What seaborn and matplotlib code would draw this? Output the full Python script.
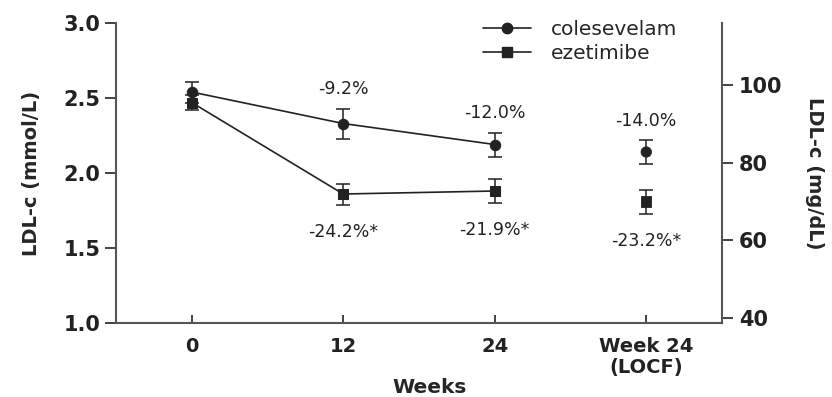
import numpy as np
import pandas as pd
import seaborn as sns
import matplotlib.pyplot as plt
from matplotlib.lines import Line2D

# values (mmol/L)
weeks = ["0", "12", "24", "Week 24\n(LOCF)"]
coles_mean = [2.54, 2.33, 2.19, 2.14]
coles_err = [0.07, 0.10, 0.08, 0.08]
ezet_mean = [2.47, 1.86, 1.88, 1.81]
ezet_err = [0.05, 0.07, 0.08, 0.08]
coles_pct = ["", "-9.2%", "-12.0%", "-14.0%"]
ezet_pct = ["", "-24.2%*", "-21.9%*", "-23.2%*"]
MG_PER_MMOL = 38.67

sns.set_theme(style="ticks")
plt.rcParams['font.family'] = ['DejaVu Sans']

pos = np.arange(len(weeks))
df = pd.DataFrame({
    "pos": np.concatenate([pos, pos]),
    "ldl": coles_mean + ezet_mean,
    "err": coles_err + ezet_err,
    "group": ["colesevelam"] * 4 + ["ezetimibe"] * 4,
})
line_df = df[df["pos"] < 3]
mk = {"colesevelam": "o", "ezetimibe": "s"}
ink = "#222222"
pal = {"colesevelam": ink, "ezetimibe": ink}

fig = plt.figure(figsize=(8.32, 3.97), dpi=100)
ax = fig.add_axes([0.1394, 0.1864, 0.7284, 0.7556])

sns.lineplot(data=line_df, x="pos", y="ldl", hue="group", style="group",
             markers=mk, dashes=False, palette=pal, markeredgecolor=ink,
             markersize=7.5, linewidth=1.2, legend=False, ax=ax)
sns.scatterplot(data=df[df["pos"] == 3], x="pos", y="ldl", hue="group", style="group",
                markers=mk, palette=pal, s=56, edgecolor=ink, legend=False,
                ax=ax, zorder=3)
for g, sub in df.groupby("group"):
    ax.errorbar(sub["pos"], sub["ldl"], yerr=sub["err"], fmt="none",
                ecolor=ink, elinewidth=1.1, capsize=5, capthick=1.1, zorder=2)

# percent change labels
for i in range(1, 4):
    ax.text(pos[i], coles_mean[i] + coles_err[i] + 0.13, coles_pct[i],
            ha="center", va="center", fontsize=12.5, color=ink)
    ax.text(pos[i], ezet_mean[i] - ezet_err[i] - 0.18, ezet_pct[i],
            ha="center", va="center", fontsize=12.5, color=ink)

ax.set_xlim(-0.5, 3.5)
ax.set_ylim(1.0, 3.0)
ax.set_yticks([1.0, 1.5, 2.0, 2.5, 3.0])
ax.set_yticklabels(["1.0", "1.5", "2.0", "2.5", "3.0"])
ax.set_xticks(pos)
ax.set_xticklabels(weeks, fontweight="bold", fontsize=14, linespacing=1.15)
ax.set_xlabel("Weeks", fontweight="bold", fontsize=14.5)
ax.xaxis.set_label_coords(0.518, -0.183)
ax.set_ylabel("LDL-c (mmol/L)", fontweight="bold", fontsize=14, labelpad=16)
for lab in ax.get_yticklabels():
    lab.set_fontweight("bold")
    lab.set_fontsize(15)
ax.tick_params(axis="y", colors=ink, length=8, width=1.2, direction="out", pad=3)
ax.tick_params(axis="x", colors=ink, direction="in", length=6, width=1.2, pad=10)
for s in ["left", "bottom"]:
    ax.spines[s].set_color("#555555")
    ax.spines[s].set_linewidth(1.5)
ax.spines["top"].set_visible(False)
ax.spines["right"].set_visible(False)

# right axis in mg/dL
ax2 = ax.twinx()
ax2.set_ylim(1.0 * MG_PER_MMOL, 3.0 * MG_PER_MMOL)
ax2.set_yticks([40, 60, 80, 100])
for lab in ax2.get_yticklabels():
    lab.set_fontweight("bold")
    lab.set_fontsize(15)
ax2.set_ylabel("LDL-c (mg/dL)", fontweight="bold", fontsize=14, rotation=270, labelpad=30)
ax2.tick_params(axis="y", colors=ink, length=8, width=1.2, pad=4)
ax2.spines["right"].set_color("#555555")
ax2.spines["right"].set_linewidth(1.5)
for s in ["top", "left", "bottom"]:
    ax2.spines[s].set_visible(False)

handles = [Line2D([], [], color=ink, marker="o", markersize=7.5, lw=1.2),
           Line2D([], [], color=ink, marker="s", markersize=7.5, lw=1.2)]
ax.legend(handles, ["colesevelam", "ezetimibe"], loc="upper left",
          bbox_to_anchor=(0.575, 1.07), frameon=False, fontsize=14.5,
          handlelength=2.4, handletextpad=1.0, labelspacing=0.25)

fig.savefig("out.png", dpi=100)
